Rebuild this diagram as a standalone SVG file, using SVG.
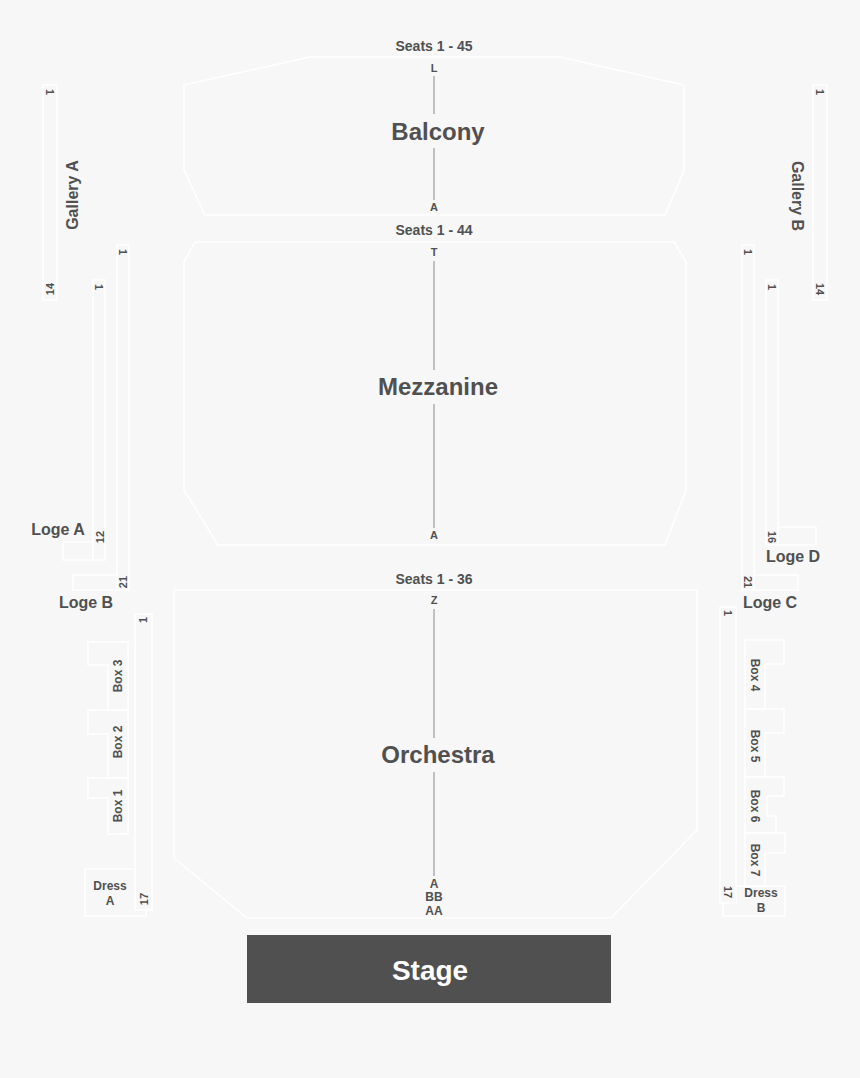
<svg xmlns="http://www.w3.org/2000/svg" width="860" height="1078" viewBox="0 0 860 1078">
<style>
.o{fill:none;stroke:#fff;stroke-width:1.5}
text{font-family:"Liberation Sans",Arial,sans-serif;font-weight:bold;fill:#505050;text-anchor:middle}
.s{font-size:14px}.b{font-size:24px}.n{font-size:11px}.m{font-size:12px}.l{font-size:16px}
.a{stroke:#8a8a8a;stroke-width:1}
</style>
<rect width="860" height="1078" fill="#f7f7f7"/>
<g id="connectors">
<line class="a" x1="434" y1="76" x2="434" y2="114"/><line class="a" x1="434" y1="148" x2="434" y2="200"/>
<line class="a" x1="434" y1="261" x2="434" y2="370"/><line class="a" x1="434" y1="404" x2="434" y2="528"/>
<line class="a" x1="434" y1="609" x2="434" y2="738"/><line class="a" x1="434" y1="772" x2="434" y2="876"/>
</g>
<g id="balcony"><polygon class="o" points="184,85 310,57 560,57 684,85 684,170 665,215 205,215 184,170"/>
<text class="s" x="434" y="51">Seats 1 - 45</text><text class="n" x="434" y="72">L</text><text class="b" x="438" y="140">Balcony</text><text class="n" x="434" y="211">A</text></g>
<g id="mezzanine"><polygon class="o" points="195,242 674,242 686,262 686,490 665,545 218,545 184,490 184,262"/>
<text class="s" x="434" y="235">Seats 1 - 44</text><text class="n" x="434" y="256">T</text><text class="b" x="438" y="395">Mezzanine</text><text class="n" x="434" y="539">A</text></g>
<g id="orchestra"><polygon class="o" points="174,590 697,590 697,830 611,918 247,918 174,858"/>
<text class="s" x="434" y="584">Seats 1 - 36</text><text class="n" x="434" y="604">Z</text><text class="b" x="438" y="763">Orchestra</text>
<text class="m" x="434" y="888">A</text><text class="m" x="434" y="901">BB</text><text class="m" x="434" y="915">AA</text></g>
<g id="stage"><rect x="247" y="935" width="364" height="68" fill="#505050"/><text x="430" y="980" style="font-size:28px;fill:#fff">Stage</text></g>
<g id="gallery-a"><rect class="o" x="43" y="85" width="14" height="215"/>
<text class="n" transform="translate(50,92) rotate(90)" text-anchor="middle" dy="4">1</text>
<text class="n" transform="translate(50,289) rotate(-90)" dy="4">14</text>
<text class="l" transform="translate(72,195) rotate(-90)" dy="6">Gallery A</text></g>
<g id="gallery-b"><rect class="o" x="813" y="85" width="14" height="215"/>
<text class="n" transform="translate(820,92) rotate(90)" dy="4">1</text>
<text class="n" transform="translate(820,289) rotate(90)" dy="4">14</text>
<text class="l" transform="translate(798,196) rotate(90)" dy="6">Gallery B</text></g>
<g id="loge-a"><rect class="o" x="93" y="280" width="12" height="280"/><polyline class="o" points="93,542 63,542 63,560 93,560"/>
<text class="n" transform="translate(99,287) rotate(90)" dy="4">1</text><text class="n" transform="translate(100,537) rotate(-90)" dy="4">12</text>
<text class="l" x="58" y="535">Loge A</text></g>
<g id="loge-b"><rect class="o" x="117" y="245" width="12" height="345"/><polyline class="o" points="117,575 73,575 73,590 117,590"/>
<text class="n" transform="translate(123,252) rotate(90)" dy="4">1</text><text class="n" transform="translate(123,582) rotate(-90)" dy="4">21</text>
<text class="l" x="86" y="608">Loge B</text></g>
<g id="loge-d"><rect class="o" x="766" y="280" width="12" height="265"/><polyline class="o" points="778,527 816,527 816,545 778,545"/>
<text class="n" transform="translate(772,287) rotate(90)" dy="4">1</text><text class="n" transform="translate(772,537) rotate(90)" dy="4">16</text>
<text class="l" x="793" y="562">Loge D</text></g>
<g id="loge-c"><rect class="o" x="742" y="245" width="12" height="345"/><polyline class="o" points="754,575 798,575 798,590 754,590"/>
<text class="n" transform="translate(748,252) rotate(90)" dy="4">1</text><text class="n" transform="translate(748,582) rotate(90)" dy="4">21</text>
<text class="l" x="770" y="608">Loge C</text></g>
<g id="orch-left"><rect class="o" x="135" y="614" width="17" height="296"/>
<text class="n" transform="translate(143,620) rotate(-90)" dy="4">1</text><text class="n" transform="translate(144,899) rotate(-90)" dy="4">17</text></g>
<g id="box-3"><polygon class="o" points="88,642 128,642 128,710 108,710 108,665 88,665"/><text class="m" transform="translate(118,676) rotate(-90)" dy="4">Box 3</text></g>
<g id="box-2"><polygon class="o" points="88,710 128,710 128,778 108,778 108,734 88,734"/><text class="m" transform="translate(118,742) rotate(-90)" dy="4">Box 2</text></g>
<g id="box-1"><polygon class="o" points="88,778 128,778 128,834 108,834 108,798 88,798"/><text class="m" transform="translate(118,806) rotate(-90)" dy="4">Box 1</text></g>
<g id="dress-a"><polyline class="o" points="134,869 85,869 85,916 146,916 146,910"/><text class="m" x="110" y="890">Dress</text><text class="m" x="110" y="905">A</text></g>
<g id="orch-right"><rect class="o" x="720" y="607" width="16" height="296"/>
<text class="n" transform="translate(728,613) rotate(90)" dy="4">1</text><text class="n" transform="translate(728,892) rotate(90)" dy="4">17</text></g>
<g id="box-4"><polygon class="o" points="745,640 784,640 784,664 765,664 765,709 745,709"/><text class="m" transform="translate(755,675) rotate(90)" dy="4">Box 4</text></g>
<g id="box-5"><polygon class="o" points="745,709 784,709 784,733 765,733 765,777 745,777"/><text class="m" transform="translate(755,746) rotate(90)" dy="4">Box 5</text></g>
<g id="box-6"><polygon class="o" points="745,777 784,777 784,796 767,796 767,816 776,816 776,833 745,833"/><text class="m" transform="translate(755,806) rotate(90)" dy="4">Box 6</text></g>
<g id="box-7"><polygon class="o" points="745,833 785,833 785,853 765,853 765,886 745,886"/><text class="m" transform="translate(755,860) rotate(90)" dy="4">Box 7</text></g>
<g id="dress-b"><polyline class="o" points="736,886 785,886 785,916 723,916 723,903"/><text class="m" x="761" y="897">Dress</text><text class="m" x="761" y="912">B</text></g>
</svg>
